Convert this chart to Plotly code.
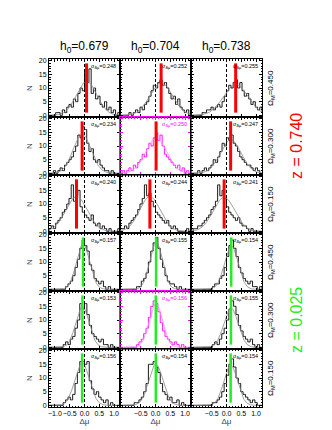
import numpy as np
import plotly.graph_objects as go
from plotly.subplots import make_subplots

# column / row labels
h0_values = ["0.679", "0.704", "0.738"]
om_values = ["0.450", "0.300", "0.150"]
z_values = ["0.740", "0.025"]
z_colors = ["#ff0000", "#22ee22"]

x_tickvals_first = [-1.0, -0.5, 0.0, 0.5, 1.0]
x_ticktext_first = ["\u22121.0", "\u22120.5", "0.0", "0.5", "1.0"]
x_tickvals_other = [-0.5, 0.0, 0.5, 1.0]
x_ticktext_other = ["\u22120.5", "0.0", "0.5", "1.0"]
y_tickvals = [0, 5, 10, 15, 20]

# reference offset (dashed line)
true_offset = 0.0

# mean offset per panel (thick bar), rows = Omega_M, cols = h0
mean_z0740 = [[0.07, 0.19, 0.31], [-0.08, 0.02, 0.14], [-0.27, -0.19, -0.08]]
mean_z0025 = [[-0.05, 0.02, 0.16], [-0.07, 0.01, 0.15], [-0.08, 0.01, 0.14]]

sigma_z0740 = [[0.248, 0.252, 0.255], [0.234, 0.250, 0.247], [0.240, 0.244, 0.241]]
sigma_z0025 = [[0.157, 0.155, 0.154], [0.153, 0.156, 0.155], [0.156, 0.154, 0.154]]

# histogram counts, 40 bins each
hist_z0740_om0450 = [
    [0,0,0,0,0,0,0,1,1,0, 2,1,3,4,3,6,5,8,10,9, 16,12,17,8,10,6,7,4,3,5, 2,3,1,2,0,1,0,0,0,0],
    [0,0,0,0,0,0,0,0,1,0, 1,2,1,3,2,4,5,7,9,11, 10,12,13,11,12,10,8,6,7,4, 6,3,2,1,2,0,1,0,0,0],
    [0,0,0,0,0,0,0,0,0,1, 1,2,2,3,2,3,4,3,5,7, 9,11,10,12,13,10,12,9,7,8, 6,4,5,3,2,3,1,2,1,0],
]
hist_z0740_om0300 = [
    [0,0,0,0,0,0,1,0,1,2, 1,3,4,5,6,8,10,14,13,17, 16,11,8,9,5,4,5,3,2,1, 1,0,1,0,0,0,0,0,0,0],
    [0,0,0,0,0,1,0,1,2,1, 3,2,4,5,7,6,9,11,10,13, 15,12,14,10,7,6,5,4,3,2, 3,1,2,0,1,0,0,0,0,0],
    [0,0,0,0,0,0,0,1,0,1, 2,1,2,3,5,4,6,8,11,10, 13,12,14,11,10,8,6,5,4,3, 3,2,1,2,1,0,0,0,0,0],
]
hist_z0740_om0150 = [
    [0,0,1,0,1,2,1,3,4,5, 7,8,10,12,17,11,13,15,9,7, 6,5,4,6,3,2,3,1,2,1, 0,1,0,0,0,1,0,1,0,0],
    [0,0,0,0,1,1,2,1,3,4, 5,6,8,10,12,17,13,14,11,9, 7,6,5,4,3,4,2,1,2,1, 0,0,0,0,1,0,0,0,0,0],
    [0,0,0,0,0,1,1,2,2,3, 4,5,6,8,9,11,17,13,15,12, 9,7,6,5,4,5,3,2,2,1, 0,1,0,0,0,0,0,0,0,0],
]
hist_z0025_om0450 = [
    [0,0,0,0,0,0,0,0,0,0, 0,0,1,2,3,5,8,11,15,18, 16,14,9,7,4,3,2,3,1,0, 1,0,0,0,0,0,0,0,0,0],
    [0,0,0,0,0,0,0,0,0,0, 0,0,1,1,3,4,6,10,14,17, 19,15,11,8,5,3,2,2,1,0, 1,0,0,0,0,0,0,0,0,0],
    [0,0,0,0,0,0,0,0,0,0, 0,0,0,0,1,2,2,4,5,8, 12,16,18,15,12,8,6,4,3,2, 3,1,1,0,1,0,0,0,0,0],
]
hist_z0025_om0300 = [
    [0,0,0,0,0,0,0,0,0,0, 0,1,2,1,3,4,7,10,16,14, 16,12,8,5,4,3,2,3,1,1, 0,1,0,0,0,0,0,0,0,0],
    [0,0,0,0,0,0,0,0,0,0, 0,0,1,2,3,5,7,11,15,17, 16,13,9,6,4,3,2,1,2,1, 0,1,0,0,0,0,0,0,0,0],
    [0,0,0,0,0,0,0,0,0,0, 0,0,0,0,1,2,1,3,5,7, 10,14,17,15,12,8,6,4,3,2, 3,1,0,1,0,0,0,0,0,0],
]
hist_z0025_om0150 = [
    [0,0,0,0,0,0,0,0,0,0, 0,1,2,3,2,4,8,12,16,16, 15,16,9,6,4,5,3,2,1,2, 0,1,0,0,0,0,0,0,0,0],
    [0,0,0,0,0,0,0,0,0,0, 0,1,1,2,3,5,8,15,15,16, 14,12,8,5,4,2,3,1,1,2, 0,1,0,0,0,0,0,0,0,0],
    [0,0,0,0,0,0,0,0,0,0, 0,0,0,0,1,1,2,3,5,8, 11,15,17,14,10,8,5,4,3,2, 1,2,1,0,0,0,0,0,0,0],
]

hists = [[hist_z0740_om0450, hist_z0740_om0300, hist_z0740_om0150],
         [hist_z0025_om0450, hist_z0025_om0300, hist_z0025_om0150]]
means = [mean_z0740, mean_z0025]
sigmas = [sigma_z0740, sigma_z0025]
bin_width = [0.075, 0.08]

FONT = "Liberation Sans"
W, H = 332, 430
ML, MR, MT, MB = 41, 78, 51, 31


def gauss_fit(centers, counts, m):
    # least-squares gaussian (fixed centre) fitted to the histogram
    best = None
    for s in np.linspace(0.1, 0.8, 141):
        g = np.exp(-(centers - m) ** 2 / (2 * s ** 2))
        a = (counts * g).sum() / (g * g).sum()
        r = ((counts - a * g) ** 2).sum()
        if best is None or r < best[0]:
            best = (r, a, s)
    return best[1], best[2]


fig = make_subplots(rows=6, cols=3, horizontal_spacing=0, vertical_spacing=0)

xg = np.linspace(-1.2, 1.2, 241)
for zi in range(2):
    w = bin_width[zi]
    centers = -20 * w + w * (np.arange(40) + 0.5)
    for oi in range(3):
        row = zi * 3 + oi + 1
        for ci in range(3):
            col = ci + 1
            fid = (oi == 1 and ci == 1)
            hcol = "#ff00ff" if fid else "black"
            gcol = "#ff88ff" if fid else "#888888"
            counts = np.array(hists[zi][oi][ci], dtype=float)
            m = means[zi][oi][ci]
            amp, s = gauss_fit(centers, counts, m)
            fig.add_trace(go.Scatter(x=centers, y=counts, mode="lines", line_shape="hvh",
                                     line=dict(color=hcol, width=0.9)), row=row, col=col)
            fig.add_trace(go.Scatter(x=xg, y=amp * np.exp(-(xg - m) ** 2 / (2 * s ** 2)),
                                     mode="lines", line=dict(color=gcol, width=0.8)),
                          row=row, col=col)
            fig.add_trace(go.Scatter(x=[true_offset, true_offset], y=[-0.6, 20.6], mode="lines",
                                     line=dict(color="black", width=1, dash="3px,2px")),
                          row=row, col=col)
            fig.add_trace(go.Scatter(x=[m, m], y=[1, 19], mode="lines",
                                     line=dict(color=z_colors[zi], width=3 if zi == 0 else 2.5)),
                          row=row, col=col)
            lc = hcol
            xa = dict(range=[-1.2, 1.2], tickmode="array",
                      tickvals=x_tickvals_first if ci == 0 else x_tickvals_other,
                      ticktext=x_ticktext_first if ci == 0 else x_ticktext_other,
                      showticklabels=(row == 6), tickangle=0, ticks="inside", ticklen=3,
                      tickcolor=lc, showline=True, linecolor=lc, linewidth=1,
                      mirror="allticks", showgrid=False, zeroline=False,
                      minor=dict(tickmode="linear", tick0=0, dtick=0.1, ticks="inside",
                                 ticklen=1.5, tickcolor=lc),
                      tickfont=dict(size=7, family=FONT, color="black"))
            if row == 6:
                xa["title"] = dict(text="\u0394\u03bc", font=dict(size=8, family=FONT),
                                   standoff=0)
            fig.update_xaxes(row=row, col=col, **xa)
            ya = dict(range=[-0.6, 20.6], tickmode="array", tickvals=y_tickvals,
                      showticklabels=(ci == 0), ticks="inside", ticklen=3, tickcolor=lc,
                      showline=True, linecolor=lc, linewidth=1, mirror="allticks",
                      showgrid=False, zeroline=False,
                      minor=dict(tickmode="linear", tick0=0, dtick=1, ticks="inside",
                                 ticklen=1.5, tickcolor=lc),
                      tickfont=dict(size=7, family=FONT, color="black"))
            if ci == 0:
                ya["title"] = dict(text="N", font=dict(size=8, family=FONT), standoff=5)
            fig.update_yaxes(row=row, col=col, **ya)
            idx = (row - 1) * 3 + col
            ref = "x" if idx == 1 else "x%d" % idx
            yref = "y" if idx == 1 else "y%d" % idx
            fig.add_annotation(xref=ref + " domain", yref=yref + " domain", x=0.97, y=0.97,
                               xanchor="right", yanchor="top", showarrow=False,
                               text="\u03c3<sub>\u0394\u03bc</sub>=%.3f" % sigmas[zi][oi][ci],
                               font=dict(size=5.5, family=FONT, color=hcol))

pw = W - ML - MR
for ci in range(3):
    fig.add_annotation(xref="paper", yref="paper", x=(ci + 0.5) / 3, y=1, yshift=2,
                       xanchor="center", yanchor="bottom", showarrow=False,
                       text="h<sub>0</sub>=" + h0_values[ci],
                       font=dict(size=12, family=FONT, color="black"))
for zi in range(2):
    for oi in range(3):
        row = zi * 3 + oi
        fig.add_annotation(xref="paper", yref="paper", x=1 + 9 / pw, y=1 - (row + 0.5) / 6,
                           xanchor="center", yanchor="middle", textangle=-90, showarrow=False,
                           text="\u03a9<sub>M</sub>=" + om_values[oi],
                           font=dict(size=8, family=FONT, color="black"))
    fig.add_annotation(xref="paper", yref="paper", x=1 + 34 / pw, y=1 - (zi * 3 + 1.5) / 6,
                       xanchor="center", yanchor="middle", textangle=-90, showarrow=False,
                       text="z = " + z_values[zi],
                       font=dict(size=16, family=FONT, color=z_colors[zi]))

fig.update_layout(width=W, height=H, showlegend=False, plot_bgcolor="white",
                  paper_bgcolor="white", margin=dict(l=ML, r=MR, t=MT, b=MB))
fig.write_html("out.html")
